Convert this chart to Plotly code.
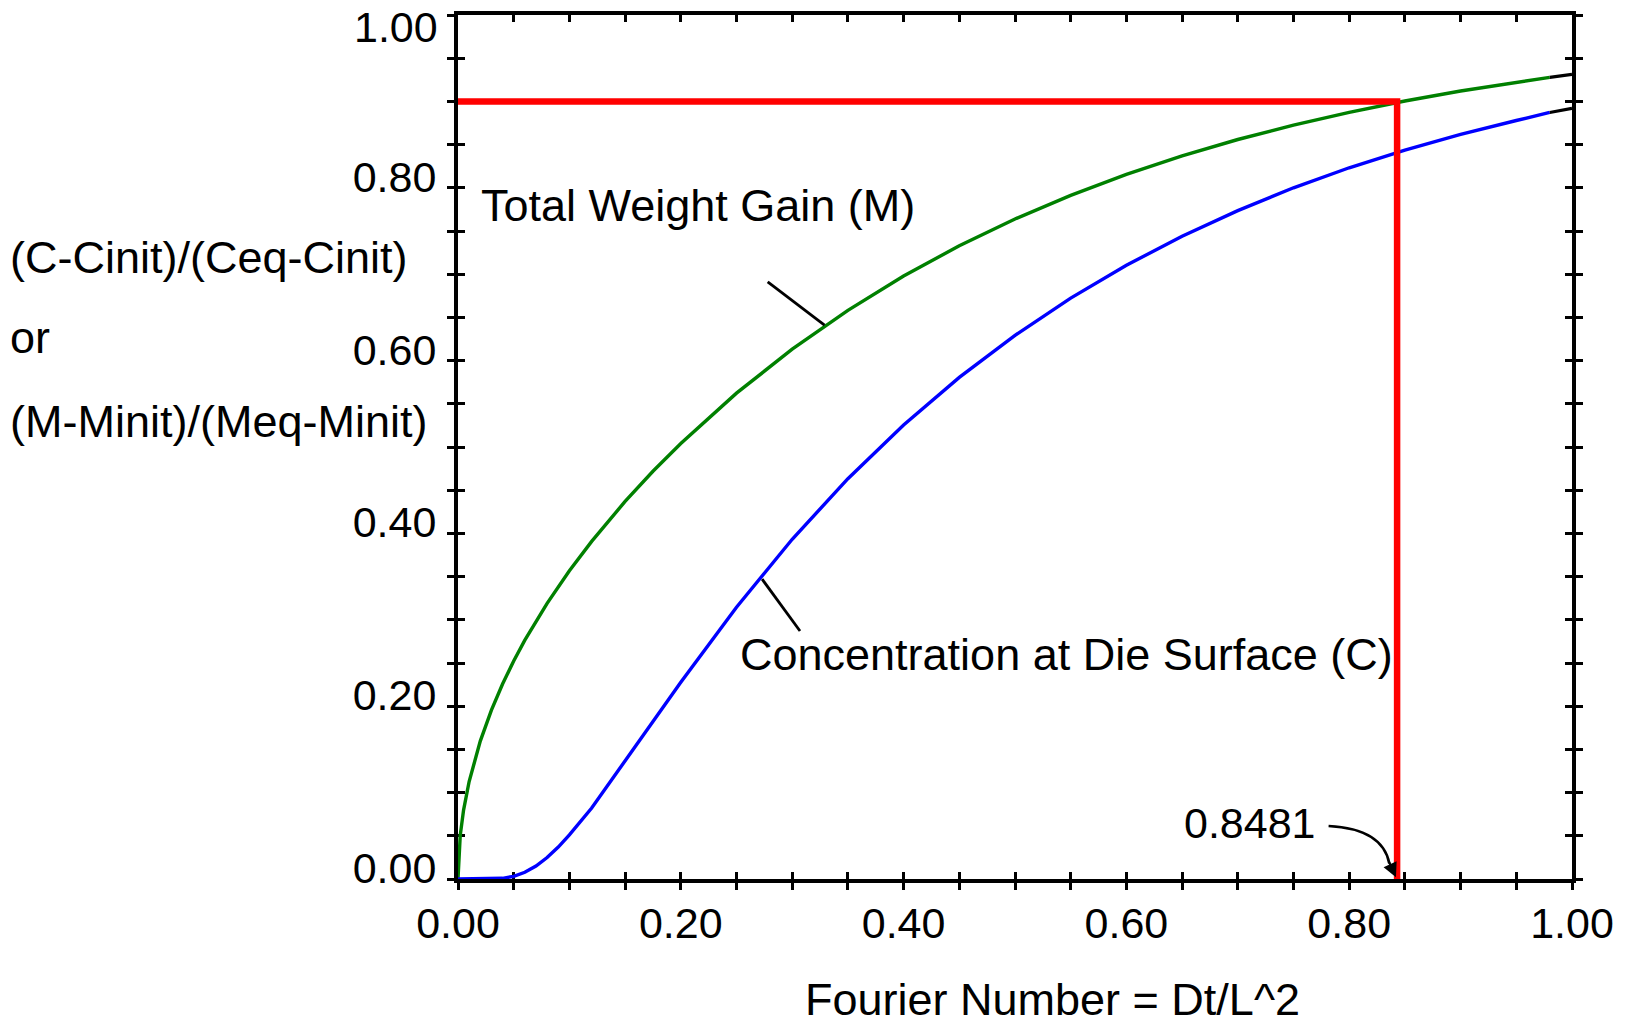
import plotly.graph_objects as go

# ---------------- data ----------------
fourier_m = [0.0, 0.002, 0.005, 0.01, 0.02, 0.03, 0.04, 0.05, 0.06, 0.08, 0.10,
             0.12, 0.15, 0.175, 0.20, 0.25, 0.30, 0.35, 0.40, 0.45, 0.50, 0.55,
             0.60, 0.65, 0.70, 0.75, 0.80, 0.85, 0.90, 0.95, 0.98]
weight_gain = [0.0, 0.0505, 0.0798, 0.1128, 0.1596, 0.1954, 0.2257, 0.2523, 0.2764,
               0.3191, 0.3568, 0.3908, 0.4370, 0.4719, 0.5040, 0.5623, 0.6132,
               0.6582, 0.6979, 0.7329, 0.7639, 0.7913, 0.8156, 0.8370, 0.8559,
               0.8726, 0.8874, 0.9005, 0.9120, 0.9222, 0.9278]
fourier_m_end = [0.98, 1.00]
weight_gain_end = [0.9278, 0.9313]

fourier_c = [0.0, 0.02, 0.03, 0.04, 0.05, 0.06, 0.07, 0.08, 0.09, 0.10, 0.12,
             0.14, 0.16, 0.18, 0.20, 0.25, 0.30, 0.35, 0.40, 0.45, 0.50, 0.55,
             0.60, 0.65, 0.70, 0.75, 0.80, 0.85, 0.90, 0.95, 0.98]
surface_conc = [0.0, 0.0, 0.0001, 0.0008, 0.0031, 0.0078, 0.0150, 0.0248, 0.0370,
                0.0510, 0.0822, 0.1186, 0.1542, 0.1908, 0.2277, 0.3146, 0.3932,
                0.4633, 0.5255, 0.5805, 0.6292, 0.6723, 0.7103, 0.7440, 0.7736,
                0.8000, 0.8232, 0.8437, 0.8619, 0.8779, 0.8872]
fourier_c_end = [0.98, 1.00]
surface_conc_end = [0.8872, 0.8920]

target_fraction = 0.90
target_fourier = 0.843
target_label = "0.8481"

tick_values = [i * 0.05 for i in range(21)]
x_tick_labels = [f"{v:.2f}" if i % 4 == 0 else "" for i, v in enumerate(tick_values)]
# the top y label sits below its tick in the reference, so it is drawn separately
y_tick_labels = [f"{v:.2f}" if (i % 4 == 0 and i < 20) else ""
                 for i, v in enumerate(tick_values)]
y_top_label = f"{tick_values[-1]:.2f}"

FONT = "Liberation Sans, Arial, sans-serif"
TXT = 45
TICK = 43

fig = go.Figure()

fig.add_trace(go.Scatter(x=fourier_m, y=weight_gain, mode="lines",
                         line=dict(color="#008000", width=3.4), showlegend=False))
fig.add_trace(go.Scatter(x=fourier_m_end, y=weight_gain_end, mode="lines",
                         line=dict(color="black", width=3.2), showlegend=False))
fig.add_trace(go.Scatter(x=fourier_c, y=surface_conc, mode="lines",
                         line=dict(color="#0000ff", width=3.4), showlegend=False))
fig.add_trace(go.Scatter(x=fourier_c_end, y=surface_conc_end, mode="lines",
                         line=dict(color="black", width=3.2), showlegend=False))
fig.add_trace(go.Scatter(x=[0.0, target_fourier, target_fourier],
                         y=[target_fraction, target_fraction, 0.0], mode="lines",
                         line=dict(color="#ff0000", width=6.5), showlegend=False))
# dummy traces so the overlay axes are drawn
fig.add_trace(go.Scatter(x=[None], y=[None], xaxis="x2", yaxis="y2", showlegend=False))
fig.add_trace(go.Scatter(x=[None], y=[None], xaxis="x", yaxis="y3", showlegend=False))

common = dict(range=[0, 1], showgrid=False, zeroline=False, showline=True,
              linecolor="black", linewidth=4, tickcolor="black", tickwidth=3,
              tickmode="array", tickvals=tick_values, layer="below traces",
              automargin=False)

fig.update_layout(
    width=1634, height=1025,
    margin=dict(l=458, r=62, t=15, b=146),
    paper_bgcolor="white", plot_bgcolor="white",
    font=dict(family=FONT, color="black", size=TXT),
    hovermode=False,
    xaxis=dict(**common, ticks="outside", ticklen=7, ticktext=x_tick_labels,
               tickfont=dict(size=TICK, family=FONT), ticklabelstandoff=-4,
               ticklabeloverflow="allow"),
    xaxis2=dict(**common, overlaying="x", anchor="y", side="bottom", ticks="inside",
                ticklen=7, showticklabels=False, mirror="ticks"),
    yaxis=dict(**common, ticks="outside", ticklen=7, ticktext=y_tick_labels,
               tickfont=dict(size=TICK, family=FONT), ticklabelstandoff=2,
               ticklabelshift=-11, ticklabeloverflow="allow"),
    yaxis2=dict(**common, overlaying="y", anchor="x", side="left", ticks="inside",
                ticklen=7, showticklabels=False, mirror="ticks"),
    yaxis3=dict(**common, overlaying="y", anchor="x", side="right", ticks="outside",
                ticklen=7, showticklabels=False),
)

annotations = [
    dict(text=y_top_label, x=-0.0162, y=tick_values[-1], xref="paper", yref="y",
         xanchor="right", yanchor="middle", yshift=-12, showarrow=False,
         font=dict(size=TICK)),
    dict(text="Total Weight Gain (M)", x=0.019, y=0.779, xref="x", yref="y",
         xanchor="left", yanchor="middle", showarrow=False, font=dict(size=TXT)),
    dict(text="Concentration at Die Surface (C)", x=0.251, y=0.260, xref="x", yref="y",
         xanchor="left", yanchor="middle", showarrow=False, font=dict(size=TXT)),
    dict(text=target_label, x=0.772, y=0.065, xref="x", yref="y",
         xanchor="right", yanchor="middle", showarrow=False, font=dict(size=TICK)),
    dict(text="", x=target_fourier - 0.001, y=0.002, xref="x", yref="y",
         ax=target_fourier - 0.008, ay=0.022, axref="x", ayref="y",
         showarrow=True, arrowhead=2, arrowsize=1.3, arrowwidth=2.2, arrowcolor="black"),
    dict(text="(C-Cinit)/(Ceq-Cinit)", x=-0.404, y=0.719, xref="paper", yref="paper",
         xanchor="left", yanchor="middle", showarrow=False, font=dict(size=TXT)),
    dict(text="or", x=-0.404, y=0.627, xref="paper", yref="paper",
         xanchor="left", yanchor="middle", showarrow=False, font=dict(size=TXT)),
    dict(text="(M-Minit)/(Meq-Minit)", x=-0.404, y=0.529, xref="paper", yref="paper",
         xanchor="left", yanchor="middle", showarrow=False, font=dict(size=TXT)),
    dict(text="Fourier Number = Dt/L^2", x=0.534, y=-0.139, xref="paper", yref="paper",
         xanchor="center", yanchor="middle", showarrow=False, font=dict(size=TXT)),
]
fig.update_layout(annotations=annotations)

shapes = [
    dict(type="line", xref="x", yref="y", x0=0.278, y0=0.691, x1=0.329, y1=0.641,
         line=dict(color="black", width=2.8)),
    dict(type="line", xref="x", yref="y", x0=0.273, y0=0.347, x1=0.307, y1=0.287,
         line=dict(color="black", width=2.8)),
    dict(type="path", xref="x", yref="y",
         path=f"M 0.7815,0.0613 Q 0.830,0.058 {target_fourier - 0.007},0.018",
         line=dict(color="black", width=2.6)),
]
fig.update_layout(shapes=shapes)

fig.write_html("out.html",
               config={"displayModeBar": False},
               post_script="document.body.style.margin='0px';"
                           "document.body.style.overflow='hidden';")
